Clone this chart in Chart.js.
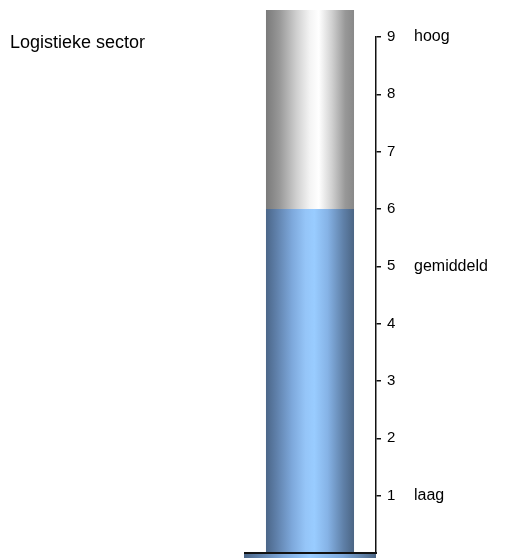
<!DOCTYPE html>
<html>
<head>
<meta charset="utf-8">
<script src="https://cdn.jsdelivr.net/npm/chart.js@4/dist/chart.umd.min.js"></script>
<style>
  html, body { margin: 0; padding: 0; background: #fff; overflow: hidden; }
  #wrap { position: relative; width: 506px; height: 558px; }
  #title { position: absolute; left: 10px; top: 32px; font-family: "Liberation Sans", Arial, sans-serif; font-size: 18px; color: #000; }
</style>
</head>
<body>
<div id="wrap">
  <canvas id="c" width="506" height="558"></canvas>
  <div id="title">Logistieke sector</div>
</div>
<script>
const categories = ["Logistieke sector"];
const scoreValues = [6];
const restValues = [3.47];
const tickValues = [0, 1, 2, 3, 4, 5, 6, 7, 8, 9];
const levelTicks = [1, 5, 9];
const levelLabels = { 1: "laag", 5: "gemiddeld", 9: "hoog" };

const BAR_PCT = 0.667;

function hGradient(chart, stops) {
  const ca = chart.chartArea;
  if (!ca) return stops[Math.floor(stops.length / 2)][1];
  const cw = ca.right - ca.left;
  const w = cw * BAR_PCT;
  const cx = (ca.left + ca.right) / 2;
  const g = chart.ctx.createLinearGradient(cx - w / 2, 0, cx + w / 2, 0);
  stops.forEach(s => g.addColorStop(s[0], s[1]));
  return g;
}

const blueStops = [
  [0, '#4b6688'], [0.12, '#5f80aa'], [0.3, '#7ea9dc'], [0.45, '#95c5f8'],
  [0.55, '#99ccff'], [0.7, '#86b3e6'], [0.88, '#5f80a8'], [1, '#4b6584']
];
const grayStops = [
  [0, '#7a7a7a'], [0.15, '#979797'], [0.35, '#d0d0d0'], [0.5, '#f4f4f4'],
  [0.6, '#ffffff'], [0.75, '#d0d0d0'], [0.9, '#989898'], [1, '#888888']
];

const basePlugin = {
  id: 'base',
  afterDatasetsDraw(chart) {
    const { ctx, chartArea: ca } = chart;
    const ys = chart.scales.y;
    const y0 = ys.getPixelForValue(0);
    ctx.save();
    const g = ctx.createLinearGradient(ca.left, 0, ca.right, 0);
    g.addColorStop(0, '#4a6587');
    g.addColorStop(0.3, '#7ea9dc');
    g.addColorStop(0.5, '#99ccff');
    g.addColorStop(0.75, '#7ea9dc');
    g.addColorStop(1, '#4b6584');
    ctx.fillStyle = g;
    ctx.fillRect(ca.left, y0, ca.right - ca.left, chart.height - y0);
    ctx.strokeStyle = '#111';
    ctx.lineWidth = 2;
    ctx.beginPath();
    ctx.moveTo(ca.left, y0);
    ctx.lineTo(ca.right + 1, y0);
    ctx.stroke();
    ctx.restore();
  }
};

function fixPad(s, w) {
  s.width = w;
  s.paddingTop = 0;
  s.paddingBottom = 0;
}

new Chart(document.getElementById('c'), {
  type: 'bar',
  data: {
    labels: categories,
    datasets: [
      {
        data: scoreValues,
        backgroundColor: (ctx) => hGradient(ctx.chart, blueStops),
        borderWidth: 0,
        barPercentage: BAR_PCT,
        categoryPercentage: 1,
        clip: false
      },
      {
        data: restValues,
        backgroundColor: (ctx) => hGradient(ctx.chart, grayStops),
        borderWidth: 0,
        barPercentage: BAR_PCT,
        categoryPercentage: 1,
        clip: false
      }
    ]
  },
  options: {
    responsive: false,
    animation: false,
    events: [],
    layout: { padding: { left: 244, top: 37, bottom: 5, right: 0 } },
    plugins: { legend: { display: false }, tooltip: { enabled: false }, title: { display: false } },
    scales: {
      x: { display: false, stacked: true },
      y: {
        stacked: true,
        position: 'right',
        min: 0,
        max: 9,
        afterBuildTicks: (s) => { s.ticks = tickValues.map(v => ({ value: v })); },
        afterFit: (s) => fixPad(s, 38),
        border: { display: true, color: '#111', width: 1.5 },
        grid: {
          drawOnChartArea: false,
          tickLength: 5,
          color: (c) => (c.tick && c.tick.value === 0) ? 'rgba(0,0,0,0)' : '#111',
          lineWidth: 1.5
        },
        ticks: {
          padding: 6,
          color: '#000',
          font: { family: 'Liberation Sans', size: 15 },
          callback: (v) => v === 0 ? '' : String(v)
        }
      },
      y2: {
        position: 'right',
        min: 0,
        max: 9,
        afterBuildTicks: (s) => { s.ticks = levelTicks.map(v => ({ value: v })); },
        afterFit: (s) => fixPad(s, 92),
        border: { display: false },
        grid: { display: false, drawTicks: false },
        ticks: {
          padding: 0,
          color: '#000',
          font: { family: 'Liberation Sans', size: 16 },
          callback: (v) => levelLabels[v] || ''
        }
      }
    }
  },
  plugins: [basePlugin]
});
</script>
</body>
</html>
